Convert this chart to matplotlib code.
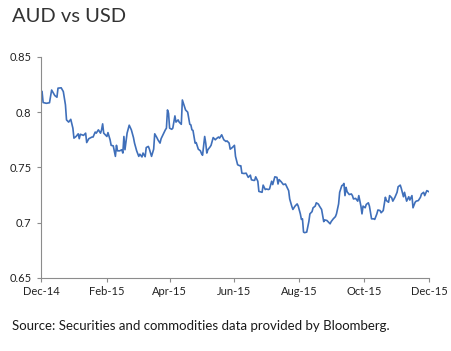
import datetime
import matplotlib
matplotlib.use("Agg")
import matplotlib.pyplot as plt
import matplotlib.dates as mdates

# days since 1 Dec 2014, AUD/USD rate
days = [1, 2, 5, 8, 10, 13, 15, 16, 19, 21, 23, 24, 26, 28, 30, 31, 33, 35, 36, 37,
        40, 42, 43, 45, 48, 49, 51, 52, 54, 56, 57, 58, 59, 62, 63, 65, 66, 68, 70, 71,
        72, 74, 76, 77, 78, 79, 81, 83, 85, 87, 88, 90, 92, 93, 95, 96, 98, 99, 101, 102,
        104, 106, 107, 109, 110, 112, 113, 115, 117, 118, 119, 120, 121, 123, 124, 126, 127, 129, 130, 132,
        133, 135, 136, 138, 140, 141, 142, 143, 145, 146, 148, 150, 151, 152, 154, 155, 156, 157, 159, 160,
        162, 164, 165, 167, 168, 170, 172, 174, 175, 177, 178, 180, 182, 183, 185, 187, 188, 189, 191, 193,
        195, 197, 198, 200, 201, 202, 204, 205, 208, 209, 211, 212, 214, 215, 217, 218, 220, 222, 223, 224,
        226, 228, 230, 231, 233, 234, 236, 237, 239, 241, 242, 244, 245, 246, 247, 248, 250, 252, 253, 255,
        256, 258, 259, 261, 262, 264, 266, 267, 269, 270, 272, 273, 275, 277, 278, 280, 281, 283, 284, 285,
        286, 287, 288, 290, 292, 293, 294, 296, 298, 299, 301, 302, 303, 305, 306, 308, 309, 311, 313, 314,
        316, 317, 319, 320, 322, 324, 325, 327, 328, 330, 331, 333, 335, 336, 338, 339, 341, 342, 344, 346,
        347, 349, 350, 352, 353, 355, 357, 358, 360, 361, 363, 365]
rate = [0.8186, 0.8087, 0.808, 0.8085, 0.820, 0.815, 0.8135, 0.8217, 0.822, 0.8186,
        0.8066, 0.793, 0.791, 0.7935, 0.7855, 0.7765, 0.778, 0.7804, 0.776, 0.780,
        0.779, 0.781, 0.7725, 0.776, 0.7775, 0.7775, 0.782, 0.781, 0.784, 0.781,
        0.784, 0.7894, 0.781, 0.778, 0.7815, 0.775, 0.770, 0.7695, 0.760, 0.770,
        0.765, 0.765, 0.766, 0.763, 0.778, 0.766, 0.781, 0.7882, 0.784, 0.777,
        0.772, 0.765, 0.760, 0.762, 0.7595, 0.763, 0.7597, 0.768, 0.769, 0.7665,
        0.760, 0.7665, 0.7804, 0.777, 0.775, 0.772, 0.776, 0.780, 0.784, 0.7855,
        0.802, 0.799, 0.7855, 0.7845, 0.7855, 0.7966, 0.791, 0.793, 0.791, 0.789,
        0.811, 0.805, 0.802, 0.800, 0.789, 0.7885, 0.784, 0.7835, 0.772, 0.7725,
        0.7665, 0.765, 0.7625, 0.761, 0.778, 0.772, 0.763, 0.766, 0.7685, 0.770,
        0.777, 0.775, 0.776, 0.7775, 0.7765, 0.7795, 0.775, 0.7735, 0.774, 0.772,
        0.7665, 0.768, 0.770, 0.760, 0.7524, 0.7515, 0.7515, 0.7448, 0.7445, 0.7448,
        0.741, 0.743, 0.7388, 0.7383, 0.7383, 0.7415, 0.7375, 0.7283, 0.7275, 0.734,
        0.730, 0.7305, 0.730, 0.7305, 0.7375, 0.7345, 0.7415, 0.741, 0.735, 0.739,
        0.737, 0.7345, 0.735, 0.733, 0.729, 0.7214, 0.7147, 0.712, 0.715, 0.717,
        0.715, 0.708, 0.703, 0.7035, 0.6915, 0.691, 0.6915, 0.701, 0.708, 0.710,
        0.7135, 0.715, 0.718, 0.7168, 0.715, 0.712, 0.701, 0.7025, 0.702, 0.701,
        0.699, 0.701, 0.7035, 0.7055, 0.708, 0.717, 0.7275, 0.7335, 0.734, 0.7355,
        0.7245, 0.732, 0.728, 0.7255, 0.726, 0.7245, 0.7215, 0.722, 0.7195, 0.7245,
        0.715, 0.708, 0.715, 0.7135, 0.7165, 0.718, 0.715, 0.7035, 0.7035, 0.703,
        0.708, 0.7115, 0.711, 0.709, 0.711, 0.723, 0.720, 0.7185, 0.7245, 0.7225,
        0.7195, 0.723, 0.7275, 0.7325, 0.734, 0.731, 0.7235, 0.7275, 0.7195, 0.7235,
        0.7205, 0.7245, 0.7135, 0.7185, 0.7195, 0.720, 0.723, 0.726, 0.7275, 0.7245,
        0.729, 0.728]

y_ticks = [0.65, 0.7, 0.75, 0.8, 0.85]
y_labels = ["0.65", "0.7", "0.75", "0.8", "0.85"]
x_ticks = ["2014-12-01", "2015-02-01", "2015-04-01", "2015-06-01",
           "2015-08-01", "2015-10-01", "2015-12-01"]

start = datetime.date(2014, 12, 1)
dates = [start + datetime.timedelta(days=d) for d in days]
tick_dates = [datetime.date.fromisoformat(s) for s in x_ticks]

plt.rcParams['font.family'] = ['Lato', 'DejaVu Sans']

fig = plt.figure(figsize=(4.52, 3.51), dpi=100)
ax = fig.add_axes([0.0907, 0.208, 0.8583, 0.630])

ax.plot(dates, rate, color='#3f6fba', linewidth=1.2)

ax.set_xlim(tick_dates[0], tick_dates[-1])
ax.set_ylim(0.65, 0.85)
ax.set_xticks(tick_dates)
ax.xaxis.set_major_formatter(mdates.DateFormatter('%b-%y'))
ax.set_yticks(y_ticks)
ax.set_yticklabels(y_labels)

for side in ['top', 'right']:
    ax.spines[side].set_visible(False)
for side in ['left', 'bottom']:
    ax.spines[side].set_color('#8c8c8c')
    ax.spines[side].set_linewidth(0.8)
ax.tick_params(axis='both', colors='#8c8c8c', length=3, width=0.8,
               labelcolor='#222222', labelsize=8)
ax.tick_params(axis='x', pad=3)
ax.tick_params(axis='y', pad=4)

fig.text(0.027, 0.953, "AUD vs USD", fontsize=14.5, color='#333333',
         va='center', ha='left')
fig.text(0.027, 0.071, "Source: Securities and commodities data provided by Bloomberg.",
         fontsize=9.5, color='#1a1a1a', va='center', ha='left')

fig.savefig("out.png", dpi=100)
